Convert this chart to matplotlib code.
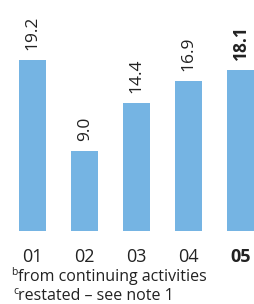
import numpy as np
import matplotlib.pyplot as plt

years = ['01', '02', '03', '04', '05']
values = [19.2, 9.0, 14.4, 16.9, 18.1]
labels = ['19.2', '9.0', '14.4', '16.9', '18.1']
notes = ['from continuing activities', 'restated \u2013 see note 1']
note_marks = ['b', 'c']

plt.rcParams['font.family'] = ['Open Sans', 'DejaVu Sans']

fig = plt.figure(figsize=(2.54, 3.04), dpi=100)
ax = fig.add_axes([0, 73 / 304, 1, 231 / 304])

x = np.arange(len(years))
ax.bar(x, values, width=0.52, color='#75B4E3')

for i, (v, lab) in enumerate(zip(values, labels)):
    ax.text(x[i], v + 1.1, lab, rotation=90, ha='center', va='bottom',
            fontsize=12.5, color='#222222',
            fontweight='bold' if i == len(values) - 1 else 'normal')

ax.set_xlim(-0.624, 4.25)
ax.set_ylim(0, 25.95)
ax.set_xticks(x)
ax.set_xticklabels(years, fontsize=13, color='#222222')
ax.get_xticklabels()[-1].set_fontweight('bold')
ax.tick_params(axis='x', length=0, pad=12)
ax.set_yticks([])
for s in ax.spines.values():
    s.set_visible(False)

for k, (m, t) in enumerate(zip(note_marks, notes)):
    ypos = 1 - (277 + 19 * k) / 304
    fig.text(18 / 254, ypos + 0.016, m, fontsize=7.5, color='#222222',
             va='center', ha='right')
    fig.text(18 / 254, ypos, t, fontsize=11.5, color='#222222', va='center')

fig.savefig('out.png', dpi=100)
